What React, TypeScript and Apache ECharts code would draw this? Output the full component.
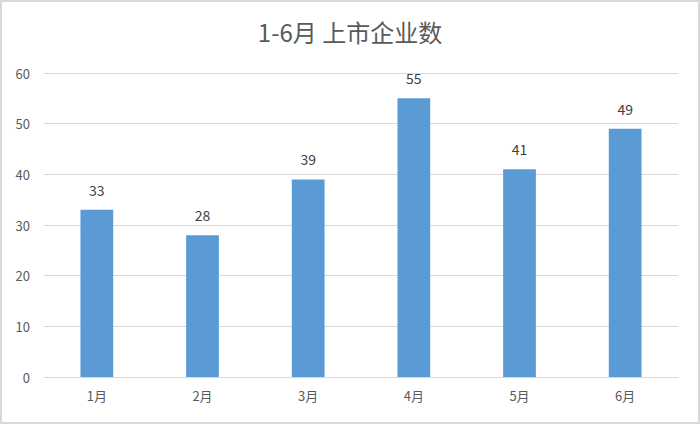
import React, { useEffect, useRef } from "react";
import * as echarts from "echarts";

const months = ["1月", "2月", "3月", "4月", "5月", "6月"];
const listings = [33, 28, 39, 55, 41, 49];

const textColor = "#595959";
const font = "'Noto Sans CJK SC', 'Noto Sans', sans-serif";

export default function App() {
  const ref = useRef<HTMLDivElement | null>(null);

  useEffect(() => {
    const chart = echarts.init(ref.current!, undefined, { renderer: "svg" });
    chart.setOption({
      animation: false,
      backgroundColor: "#fff",
      title: {
        text: "1-6月 上市企业数",
        left: "center",
        top: 14,
        textStyle: { color: textColor, fontSize: 24, fontWeight: "normal", fontFamily: font },
      },
      graphic: [
        {
          type: "rect",
          shape: { x: 1, y: 1, width: 698, height: 422 },
          style: { fill: "none", stroke: "#d9d9d9", lineWidth: 2 },
          silent: true,
        },
      ],
      grid: { left: 44, right: 22, top: 73, bottom: 47, containLabel: false },
      xAxis: {
        type: "category",
        data: months,
        axisTick: { show: false },
        axisLine: { lineStyle: { color: "#d9d9d9" } },
        axisLabel: { color: textColor, fontSize: 13, margin: 12, fontFamily: font },
      },
      yAxis: {
        type: "value",
        min: 0,
        max: 60,
        interval: 10,
        axisLine: { show: false },
        axisTick: { show: false },
        axisLabel: { color: textColor, fontSize: 13, margin: 14, fontFamily: font },
        splitLine: { lineStyle: { color: "#d9d9d9" } },
      },
      series: [
        {
          type: "bar",
          data: listings,
          barWidth: "31%",
          itemStyle: { color: "#5B9BD5" },
          label: {
            show: true,
            position: "top",
            distance: 13,
            color: "#404040",
            fontSize: 14,
            fontFamily: font,
          },
        },
      ],
    });
    return () => chart.dispose();
  }, []);

  return (
    <div
      ref={ref}
      style={{ position: "fixed", left: 0, top: 0, width: 700, height: 424 }}
    />
  );
}
